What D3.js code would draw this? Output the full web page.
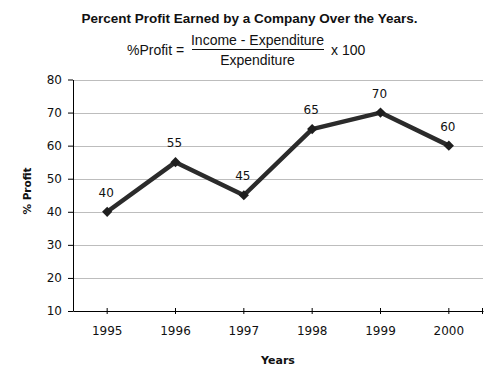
<!DOCTYPE html>
<html><head><meta charset="utf-8">
<script src="https://cdn.jsdelivr.net/npm/d3@7"></script>
<style>body{margin:0;background:#fff}svg{display:block}</style>
</head><body>
<svg id="c" width="497" height="369"></svg>
<script>
const years = ["1995","1996","1997","1998","1999","2000"];
const profit = [40, 55, 45, 65, 70, 60];
const yTicks = [10, 20, 30, 40, 50, 60, 70, 80];
const titleText = "Percent Profit Earned by a Company Over the Years.";
const numerText = "Income - Expenditure";
const denomText = "Expenditure";
const lhsText = "%Profit =";
const rhsText = "x 100";
const xTitle = "Years";
const yTitle = "% Profit";

const svg = d3.select("#c");
const L = 73, R = 483, T = 79.5, B = 311;
const x = d3.scaleBand().domain(years).range([L, R]);
const y = d3.scaleLinear().domain([10, 80]).range([B, T]);
const cx = d => x(d) + x.bandwidth() / 2;

// title
svg.append("text").attr("x", 249.5).attr("y", 23).attr("text-anchor", "middle")
  .attr("font-family", "Liberation Sans, Arial, sans-serif").attr("font-weight", "bold")
  .attr("font-size", 13.5).attr("fill", "#111").text(titleText);
const ff = "Liberation Sans, Arial, sans-serif";
svg.append("text").attr("x", 127).attr("y", 55).attr("font-family", ff).attr("font-size", 14).attr("fill", "#111").text(lhsText);
svg.append("text").attr("x", 257.5).attr("y", 45).attr("text-anchor", "middle").attr("font-family", ff).attr("font-size", 14).attr("fill", "#111").text(numerText);
svg.append("line").attr("x1", 192).attr("x2", 324).attr("y1", 49.5).attr("y2", 49.5).attr("stroke", "#111").attr("stroke-width", 1.2);
svg.append("text").attr("x", 257.5).attr("y", 65).attr("text-anchor", "middle").attr("font-family", ff).attr("font-size", 14).attr("fill", "#111").text(denomText);
svg.append("text").attr("x", 331).attr("y", 55).attr("font-family", ff).attr("font-size", 14).attr("fill", "#111").text(rhsText);

// gridlines
svg.append("g").selectAll("line").data(yTicks.filter(v => v > 10)).join("line")
  .attr("x1", L).attr("x2", R).attr("y1", d => Math.round(y(d)) + 0.5).attr("y2", d => Math.round(y(d)) + 0.5)
  .attr("stroke", "#bdbdbd").attr("stroke-width", 1);

// y axis
const yAxis = svg.append("g").attr("transform", `translate(${L},0)`)
  .call(d3.axisLeft(y).tickValues(yTicks).tickSize(5).tickPadding(6).tickSizeOuter(0));
yAxis.select(".domain").attr("stroke", "#000");
yAxis.selectAll(".tick line").attr("stroke", "#000");
yAxis.selectAll("text").attr("font-family", "DejaVu Sans, Verdana, sans-serif").attr("font-size", 12).attr("fill", "#111");

// x axis
const xAxis = svg.append("g").attr("transform", `translate(0,${B})`)
  .call(d3.axisBottom(x).tickSize(3).tickPadding(12).tickSizeOuter(0));
xAxis.select(".domain").attr("stroke", "#000");
xAxis.selectAll(".tick line").attr("y1", -3).attr("y2", 3).attr("stroke", "#000");
xAxis.append("line").attr("x1", R - 0.5).attr("x2", R - 0.5).attr("y1", -3).attr("y2", 3).attr("stroke", "#000");
xAxis.selectAll("text").attr("font-family", "DejaVu Sans, Verdana, sans-serif").attr("font-size", 12).attr("fill", "#111");

// axis titles
svg.append("text").attr("x", 278).attr("y", 364).attr("text-anchor", "middle")
  .attr("font-family", "DejaVu Sans, Verdana, sans-serif").attr("font-weight", "bold").attr("font-size", 11).attr("fill", "#111").text(xTitle);
svg.append("text").attr("transform", "translate(31,191) rotate(-90)").attr("text-anchor", "middle")
  .attr("font-family", "DejaVu Sans, Verdana, sans-serif").attr("font-weight", "bold").attr("font-size", 10.5).attr("fill", "#111").text(yTitle);

// line
const pts = years.map((yr, i) => [cx(yr), y(profit[i])]);
svg.append("path").attr("d", d3.line()(pts)).attr("fill", "none")
  .attr("stroke", "#2b2b2b").attr("stroke-width", 4.5).attr("stroke-linejoin", "round");
svg.append("g").selectAll("path").data(pts).join("path")
  .attr("transform", d => `translate(${d[0]},${d[1]}) rotate(45)`)
  .attr("d", d3.symbol(d3.symbolSquare, 52)).attr("fill", "#1e1e1e");

// data labels
svg.append("g").selectAll("text").data(years).join("text")
  .attr("x", d => cx(d) - 1).attr("y", (d, i) => y(profit[i]) - 15)
  .attr("text-anchor", "middle").attr("font-family", "DejaVu Sans, Verdana, sans-serif")
  .attr("font-size", 12).attr("fill", "#111").text((d, i) => profit[i]);
</script>
</body></html>
